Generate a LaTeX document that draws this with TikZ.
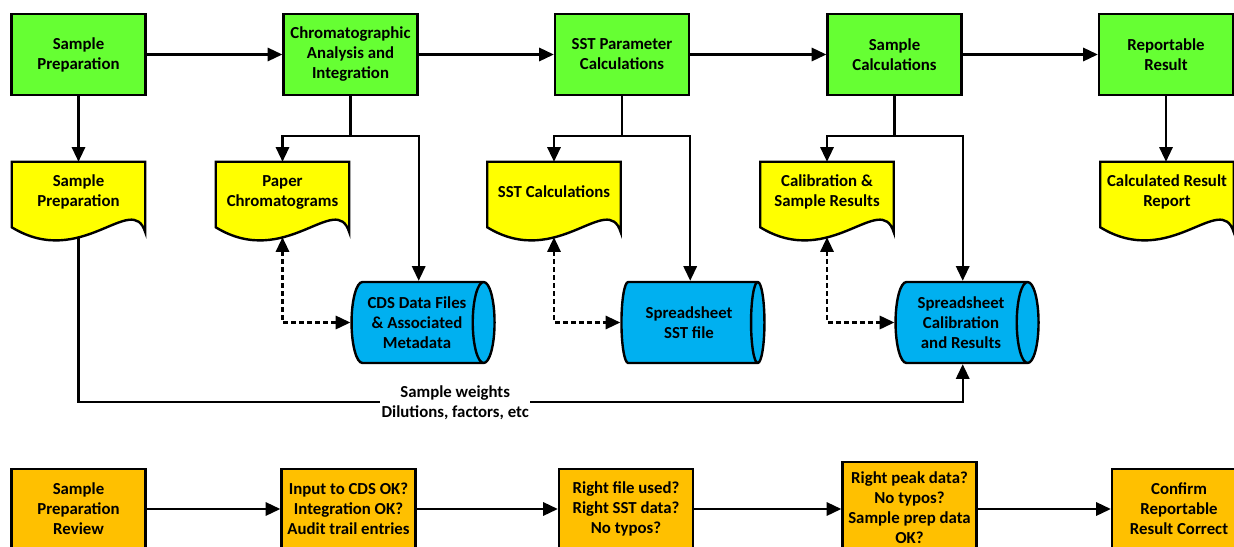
\documentclass[tikz,border=0pt]{standalone}
\usepackage{fontspec}
\setmainfont{Carlito}
\usetikzlibrary{arrows.meta,shapes.geometric,calc,backgrounds}
\definecolor{gr}{HTML}{66FF33}
\definecolor{ye}{HTML}{FFFF00}
\definecolor{bl}{HTML}{00B0F0}
\definecolor{og}{HTML}{FFC000}
\newcommand\docwave[1]{%
  \begin{pgfonlayer}{background}
  \draw[line width=1.8pt, fill=ye, line join=miter]
    (#1.north west) -- (#1.north east) -- ($(#1.south east)+(0,10)$)
    .. controls ($(#1.south east)+(-13,-32)$) and ($(#1.south west)+(70,48)$) ..
    ($(#1.south west)+(0,5)$) -- cycle;
  \end{pgfonlayer}}
\begin{document}
\begin{tikzpicture}[x=0.75pt,y=-0.75pt,
  font=\fontsize{12.6}{15}\selectfont\bfseries,
  every node/.style={align=center, inner sep=0pt},
  box/.style={draw, line width=1.8pt, minimum width=100.5pt, minimum height=60.75pt},
  proc/.style={box, fill=gr},
  chk/.style={box, fill=og, minimum height=60pt},
  docnode/.style={minimum width=99.75pt, minimum height=45pt},
  db/.style={cylinder, draw, line width=1.8pt, fill=bl, minimum height=107.25pt, minimum width=60.75pt, aspect=0.42},
  ln/.style={line width=1.6pt},
  tip/.tip={Triangle[length=11pt,width=10pt]},
  arr/.style={ln, -tip},
  darr/.style={ln, dash pattern=on 3.5pt off 2.5pt, tip-tip},
  lbl/.style={fill=white, inner xsep=1pt, inner ysep=1pt}
]
\useasboundingbox (0,0) rectangle (1234,546);
\clip (0,0) rectangle (1234,546);

% top process row
\node[proc] (G1) at (78.5,54.5) {Sample\\Preparation};
\node[proc] (G2) at (350.5,54.5) {Chromatographic\\Analysis and\\Integration};
\node[proc] (G3) at (622,54.5) {SST Parameter\\Calculations};
\node[proc] (G4) at (894.5,54.5) {Sample\\Calculations};
\node[proc] (G5) at (1166,54.5) {Reportable\\Result};

% documents
\node[docnode] (D1) at (78.5,192) {Sample\\Preparation};
\node[docnode] (D2) at (282.5,192) {Paper\\Chromatograms};
\node[docnode] (D3) at (554,192) {SST Calculations};
\node[docnode] (D4) at (827,192) {Calibration \&\\Sample Results};
\node[docnode] (D5) at (1167,192) {Calculated Result\\Report};
\docwave{D1}\docwave{D2}\docwave{D3}\docwave{D4}\docwave{D5}

% databases
\node[db] (C1) at (417,322.5) {CDS Data Files\\\& Associated\\Metadata};
\node[db] (C2) at (689,322.5) {Spreadsheet\\SST file};
\node[db] (C3) at (961,322.5) {Spreadsheet\\Calibration\\and Results};

% review row
\node[chk] (O1) at (78.5,509) {Sample\\Preparation\\Review};
\node[chk] (O2) at (348.5,509) {Input to CDS OK?\\Integration OK?\\Audit trail entries};
\node[chk] (O3) at (626,509) {Right file used?\\Right SST data?\\No typos?};
\node[chk, minimum height=69pt] (O4) at (909.5,508) {Right peak data?\\No typos?\\Sample prep data\\OK?};
\node[chk] (O5) at (1179,509) {Confirm\\Reportable\\Result Correct};

% main flow
\draw[arr] (G1) -- (G2);
\draw[arr] (G2) -- (G3);
\draw[arr] (G3) -- (G4);
\draw[arr] (G4) -- (G5);
\draw[arr] (O1) -- (O2);
\draw[arr] (O2) -- (O3);
\draw[arr] (O3) -- (O4.west |- O3.east);
\draw[arr] (O4.east |- O5.west) -- (O5);

% branches
\draw[arr] (G1.south) -- (D1.north);
\draw[arr] (G5.south) -- (G5.south |- D5.north);
\draw[ln] (G2.south) -- ++(0,40) coordinate (j2);
\draw[arr] (j2) -| (D2.north);
\draw[arr] (j2) -| (G2.east |- C1.north);
\draw[ln] (G3.south) -- ++(0,40) coordinate (j3);
\draw[arr] (j3) -| (D3.north);
\draw[arr] (j3) -| (G3.east |- C2.north);
\draw[ln] (G4.south) -- ++(0,40) coordinate (j4);
\draw[arr] (j4) -| (D4.north);
\draw[arr] (j4) -| (G4.east |- C3.north);

% dashed links
\draw[darr] ($(D2.south)+(0,15)$) |- (C1.west);
\draw[darr] ($(D3.south)+(0,15)$) |- (C2.west);
\draw[darr] ($(D4.south)+(0,15)$) |- (C3.west);

% sample weights line
\coordinate (low) at ($(D1.south)+(0,180)$);
\draw[arr] ($(D1.south)+(0,15)$) -- (low) -| node[lbl, pos=0.213] {Sample weights\\Dilutions, factors, etc} (G4.east |- C3.south);
\end{tikzpicture}
\end{document}
